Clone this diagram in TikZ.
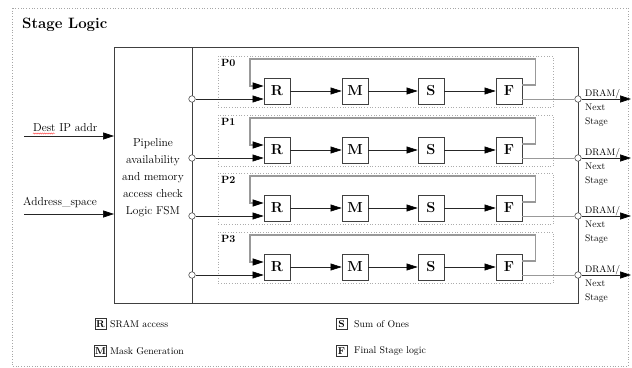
\documentclass[tikz,border=0pt]{standalone}
\usetikzlibrary{arrows.meta,decorations.pathmorphing}
\begin{document}
\begin{tikzpicture}[x=1pt,y=-1pt,
  blk/.style={draw=black!75, line width=0.8pt, fill=white, minimum width=26pt, minimum height=26pt, inner sep=0pt, font=\fontsize{14.5}{15}\selectfont\bfseries},
  arr/.style={-{Triangle[length=11pt,width=7pt,black]}, line width=0.6pt, draw=black!85},
  fb/.style={draw=gray!80, line width=1.1pt},
  pbox/.style={draw=gray!65, dotted, line width=0.7pt},
  pin/.style={circle, draw=black!70, fill=white, inner sep=0pt, minimum size=6.5pt, line width=0.6pt},
  lab/.style={font=\fontsize{11.5}{17}\selectfont, inner sep=0pt},
  dlab/.style={font=\fontsize{9.5}{12}\selectfont, inner sep=0pt, anchor=base west},
  leg/.style={draw=black!80, line width=0.7pt, inner sep=0.8pt, minimum size=11pt, font=\fontsize{10}{10}\selectfont\bfseries},
  legt/.style={font=\fontsize{9.8}{10}\selectfont, inner sep=0pt, anchor=west}
]
\useasboundingbox (0,0) rectangle (632,367);
% outer border
\draw[gray!70, dotted, line width=0.7pt] (12,8) rectangle (628,366);
\node[anchor=base west, inner sep=0pt, font=\fontsize{15}{16}\selectfont\bfseries] (title) at (22,28) {Stage Logic};
% main box
\node[draw=black!75, line width=0.8pt, minimum width=464pt, minimum height=256pt, anchor=north west, inner sep=0pt] (main) at (114,47) {};
\node[draw=black!75, line width=0.8pt, minimum width=78pt, minimum height=256pt, anchor=north west, inner sep=0pt] (fsm) at (114,47) {};
\node[lab, align=center] (fsmtext) at (153,178) {Pipeline\\availability\\and memory\\access check\\Logic FSM};
% inputs
\coordinate (dstart) at (24,136);
\coordinate (astart) at (24,214);
\draw[arr] (dstart) -- (fsm.west |- dstart);
\draw[arr] (astart) -- (fsm.west |- astart);
\node[lab, anchor=base west] (dest) at (33,131) {Dest IP addr};
\draw[red!80, line width=0.4pt, decorate, decoration={snake, amplitude=0.6pt, segment length=2.2pt}] (33,133.5) -- (55,133.5);
\node[lab, anchor=base west] (addr) at (23,205) {Address\_space};
% pipelines
\foreach \i/\c in {0/91,1/150,2/208,3/267}{
  \draw[pbox] (218,\c-35) rectangle (553,\c+16);
  \node[anchor=north west, inner sep=0pt, font=\fontsize{10.5}{11}\selectfont\bfseries] (P\i) at (221,\c-32) {P\i};
  \node[blk] (R\i) at (277,\c) {R};
  \node[blk] (M\i) at (355,\c) {M};
  \node[blk] (S\i) at (431,\c) {S};
  \node[blk] (F\i) at (509,\c) {F};
  \draw[arr] (R\i) -- (M\i);
  \draw[arr] (M\i) -- (S\i);
  \draw[arr] (S\i) -- (F\i);
  % feedback
  \coordinate (fbl\i) at (250,\c-32);
  \draw[fb, -{Triangle[length=11pt,width=7pt,black]}] ([yshift=6pt]F\i.east) -- ++(13,0) |- (fbl\i) |- ([yshift=5pt]R\i.west);
  % input from FSM
  \node[pin] (in\i) at (192,\c+8) {};
  \draw[arr] (in\i) -- (R\i.west |- in\i);
  % output
  \node[pin] (out\i) at (578,\c+8) {};
  \coordinate (end\i) at (631,\c+8);
  \draw[gray!80, line width=0.8pt] ([yshift=-8pt]F\i.east) -- (out\i);
  \draw[arr] (out\i) -- (end\i);
  \node[dlab] (dram\i) at (585,\c+5) {DRAM/};
  \node[dlab] (next\i) at (585,\c+19.5) {Next};
  \node[dlab] (stage\i) at (585,\c+33) {Stage};
}
% legend
\node[leg] (lr) at (100.5,324) {R};
\node[legt] (lrt) at (110,324.5) {SRAM access};
\node[leg] (lm) at (100.5,351) {M};
\node[legt] (lmt) at (110,351.5) {Mask Generation};
\node[leg] (ls) at (341.5,324) {S};
\node[legt] (lst) at (354,324.5) {Sum of Ones};
\node[leg] (lf) at (341.5,351) {F};
\node[legt] (lft) at (354,351.5) {Final Stage logic};
\end{tikzpicture}
\end{document}
